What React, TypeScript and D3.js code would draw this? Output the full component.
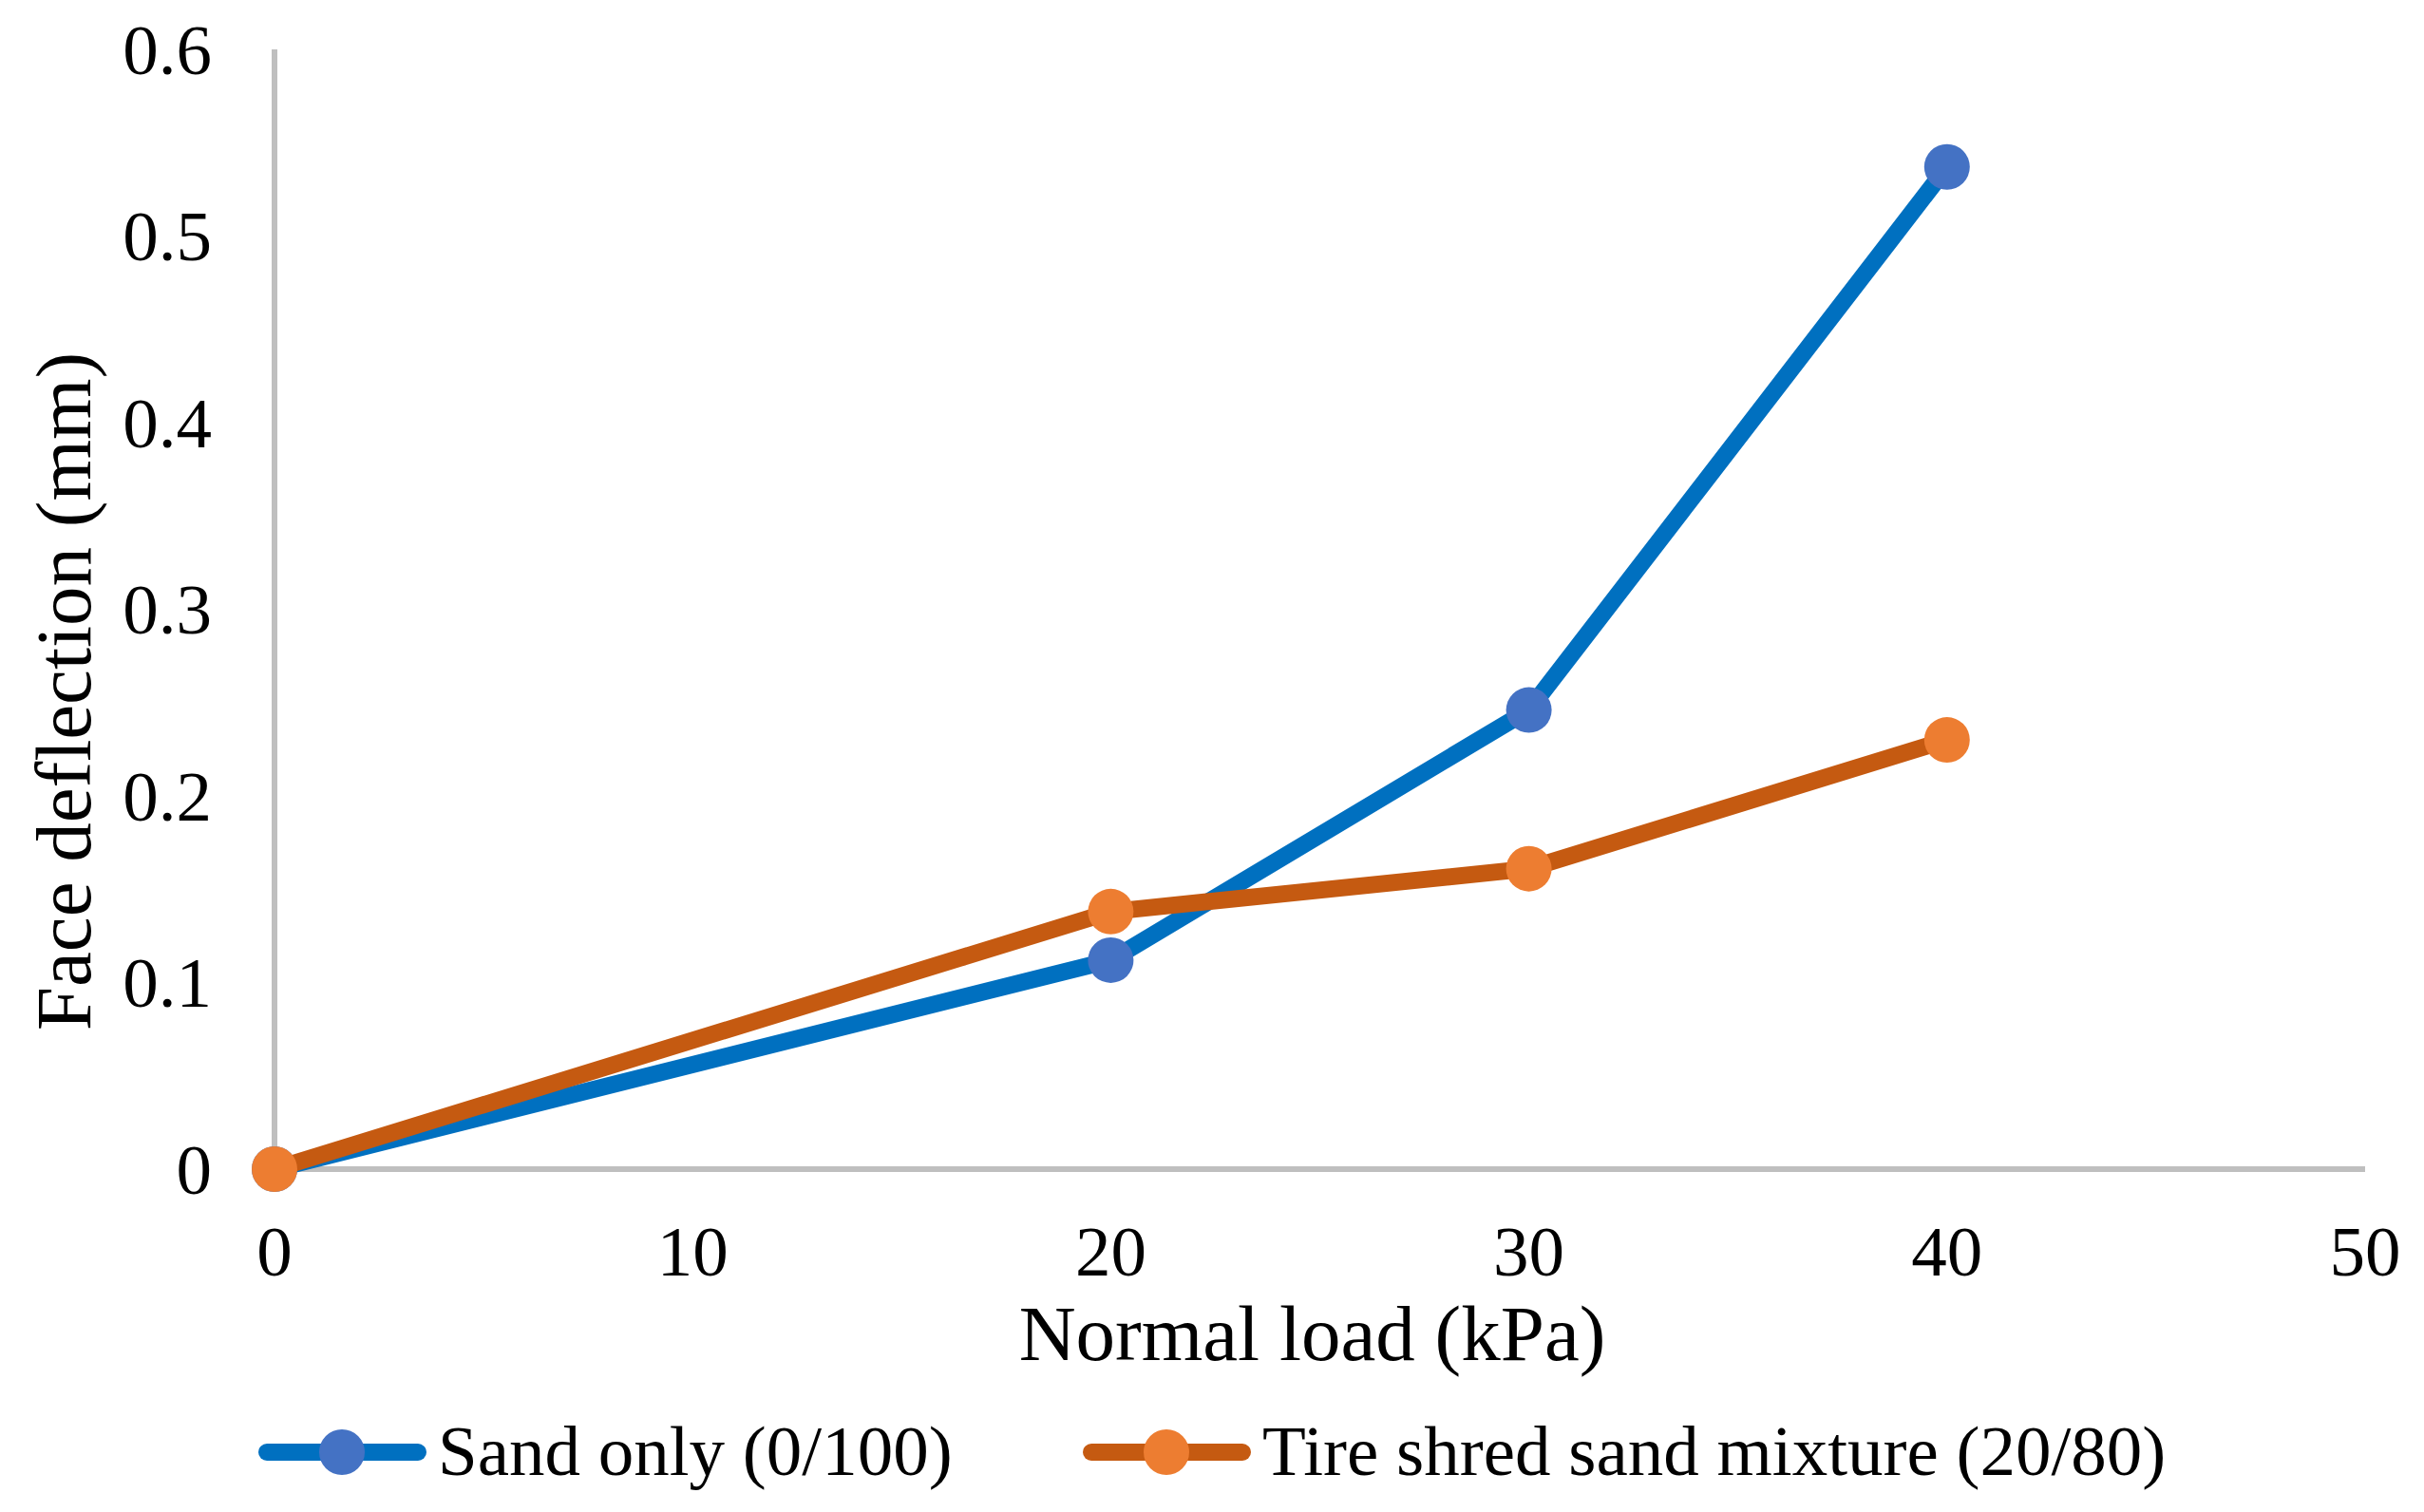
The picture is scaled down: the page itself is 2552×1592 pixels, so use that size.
import { useEffect, useRef } from "react";
import * as d3 from "d3";

const loads = [0, 20, 30, 40];
const sandOnly = [0, 0.112, 0.246, 0.537];
const tireShred = [0, 0.138, 0.161, 0.23];
const xTicks = [0, 10, 20, 30, 40, 50];
const yTicks = [0, 0.1, 0.2, 0.3, 0.4, 0.5, 0.6];
const seriesNames = ["Sand only (0/100)", "Tire shred sand mixture (20/80)"];

const WIDTH = 2552;
const HEIGHT = 1592;
const FONT = "'Liberation Serif', 'Times New Roman', serif";

export default function App() {
  const svgRef = useRef<SVGSVGElement>(null);

  useEffect(() => {
    if (!svgRef.current) return;
    const svg = d3.select(svgRef.current);
    svg.selectAll("*").remove();

    const margin = { top: 52, left: 289, right: 62, bottom: 361 };
    const x = d3
      .scaleLinear()
      .domain([0, 50])
      .range([margin.left, WIDTH - margin.right]);
    const y = d3
      .scaleLinear()
      .domain([0, 0.6])
      .range([HEIGHT - margin.bottom, margin.top]);

    const series = [
      { name: seriesNames[0], values: sandOnly, line: "#0070C0", marker: "#4472C4" },
      { name: seriesNames[1], values: tireShred, line: "#C55A11", marker: "#ED7D31" },
    ];

    // axes lines
    svg
      .append("line")
      .attr("x1", x(0))
      .attr("x2", x(0))
      .attr("y1", y(0.6))
      .attr("y2", y(0))
      .style("stroke", "#BFBFBF")
      .style("stroke-width", 6);
    svg
      .append("line")
      .attr("x1", x(0))
      .attr("x2", x(50))
      .attr("y1", y(0))
      .attr("y2", y(0))
      .style("stroke", "#BFBFBF")
      .style("stroke-width", 6);

    // tick labels
    svg
      .selectAll(".ytick")
      .data(yTicks)
      .enter()
      .append("text")
      .attr("x", 223)
      .attr("y", (d) => y(d))
      .attr("dy", "0.34em")
      .attr("text-anchor", "end")
      .style("font-family", FONT)
      .style("font-size", "75px")
      .text((d) => String(d));

    svg
      .selectAll(".xtick")
      .data(xTicks)
      .enter()
      .append("text")
      .attr("x", (d) => x(d))
      .attr("y", 1343)
      .attr("text-anchor", "middle")
      .style("font-family", FONT)
      .style("font-size", "75px")
      .text((d) => String(d));

    // axis titles
    svg
      .append("text")
      .attr("x", (x(0) + x(50)) / 2 - 8)
      .attr("y", 1432)
      .attr("text-anchor", "middle")
      .style("font-family", FONT)
      .style("font-size", "83px")
      .text("Normal load (kPa)");

    svg
      .append("text")
      .attr("transform", "translate(95,728) rotate(-90)")
      .attr("text-anchor", "middle")
      .style("font-family", FONT)
      .style("font-size", "83px")
      .text("Face deflection (mm)");

    // series
    const line = d3
      .line<number>()
      .x((d, i) => x(loads[i]))
      .y((d) => y(d));

    series.forEach((s) => {
      const g = svg.append("g");
      g.append("path")
        .attr("d", line(s.values))
        .style("fill", "none")
        .style("stroke", s.line)
        .style("stroke-width", 18)
        .style("stroke-linejoin", "round");
      g.selectAll("circle")
        .data(s.values)
        .enter()
        .append("circle")
        .attr("cx", (d, i) => x(loads[i]))
        .attr("cy", (d) => y(d))
        .attr("r", 24)
        .style("fill", s.marker);
    });

    // legend
    const legendY = 1529;
    const legendItems = [
      { ...series[0], x0: 272 },
      { ...series[1], x0: 1140 },
    ];
    legendItems.forEach((s) => {
      const g = svg.append("g");
      g.append("line")
        .attr("x1", s.x0 + 9)
        .attr("x2", s.x0 + 168)
        .attr("y1", legendY)
        .attr("y2", legendY)
        .style("stroke", s.line)
        .style("stroke-width", 18)
        .style("stroke-linecap", "round");
      g.append("circle")
        .attr("cx", s.x0 + 88)
        .attr("cy", legendY)
        .attr("r", 24)
        .style("fill", s.marker);
      g.append("text")
        .attr("x", s.x0 + 189)
        .attr("y", 1553)
        .style("font-family", FONT)
        .style("font-size", "75px")
        .text(s.name);
    });
  }, []);

  return (
    <div style={{ position: "absolute", left: 0, top: 0 }}>
      <svg
        ref={svgRef}
        width={WIDTH}
        height={HEIGHT}
        style={{ display: "block", background: "#fff" }}
      ></svg>
    </div>
  );
}
